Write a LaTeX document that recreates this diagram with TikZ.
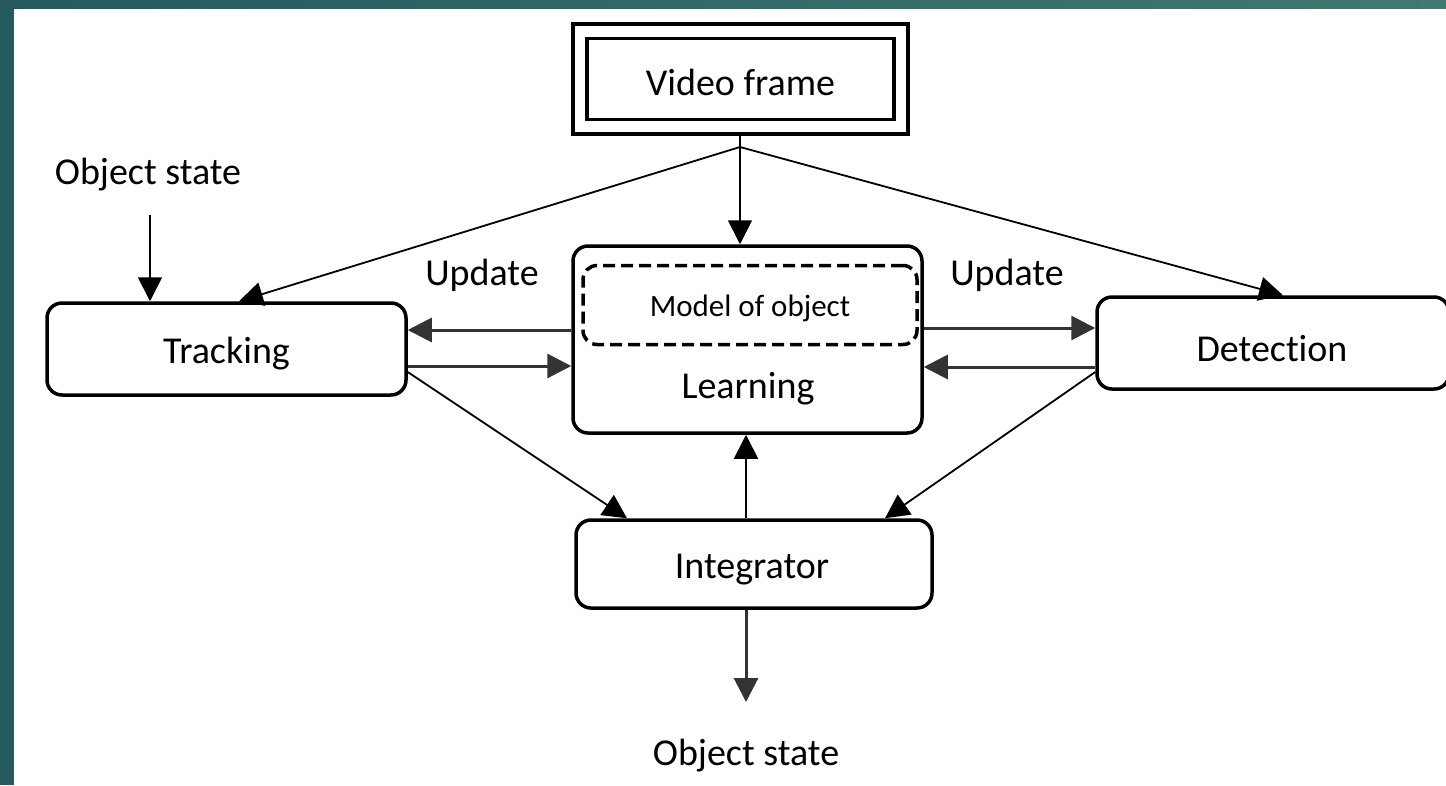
\documentclass[tikz,border=0pt]{standalone}
\usepackage{fontspec}
\setmainfont[Ligatures=NoCommon]{Carlito}
\usetikzlibrary{arrows.meta}
\definecolor{tealL}{RGB}{36,90,94}
\definecolor{tealR}{RGB}{62,122,114}
\begin{document}
\begin{tikzpicture}[x=1pt,y=-1pt,
  box/.style={draw=black,line width=3.5pt,rounded corners=15pt,fill=white,inner sep=0pt},
  lbl/.style={font=\fontsize{38}{44}\selectfont,inner sep=0pt},
  thin/.style={line width=1.8pt,-{Triangle[length=24pt,width=24pt]}},
  mid/.style={line width=3pt,draw=black!80,-{Triangle[length=24pt,width=24pt]}}]
\useasboundingbox (0,0) rectangle (1446,785);
\shade[left color=tealL,right color=tealR] (0,0) rectangle (1446,10);
\fill[tealL] (0,0) rectangle (14,785);
\fill[white] (14,9) rectangle (1446,785);
% nodes
\node[draw,line width=4pt,minimum width=335pt,minimum height=110pt,inner sep=0pt] (vfo) at (740.5,79) {};
\node[draw,line width=3.5pt,minimum width=307pt,minimum height=81pt,inner sep=0pt] (vf) at (740.5,79) {};
\node[lbl] (vft) at ([yshift=-3pt]vf.center) {Video frame};
\node[box,minimum width=359pt,minimum height=92pt] (tr) at (226.5,349) {};
\node[lbl] (trt) at ([yshift=-5pt]tr.center) {Tracking};
\node[box,minimum width=349pt,minimum height=187pt] (le) at (747.5,339.5) {};
\node[draw,dashed,dash pattern=on 12pt off 6pt,line width=3.5pt,rounded corners=14pt,minimum width=334pt,minimum height=79pt,inner sep=0pt] (mo) at (750,305) {};
\node[font=\fontsize{31}{36}\selectfont,inner sep=0pt] (mot) at ([yshift=-3pt]mo.center) {Model of object};
\node[lbl] (lt) at (748,389) {Learning};
\node[box,minimum width=352pt,minimum height=92pt] (de) at (1273,343) {};
\node[lbl] (det) at (1272,349) {Detection};
\node[box,minimum width=356pt,minimum height=88pt] (in) at (754,564) {};
\node[lbl] (int) at (752,570) {Integrator};
\node[lbl] (ost) at (148,175) {Object state};
\node[lbl] (osb) at (746,756) {Object state};
\node[lbl] (u1) at (482,275) {Update};
\node[lbl] (u2) at (1007,275) {Update};
\coordinate (br) at (740,147);
\coordinate (ostb) at (150,215);
\coordinate (outb) at (746,702);
% connectors
\draw[line width=1.8pt] (vfo.south -| br) -- (br);
\draw[thin] (br) -- (le.north -| br);
\draw[thin] (br) -- (tr.north -| 239,0);
\draw[thin] (br) -- (de.north -| 1283,0);
\draw[thin] (ostb) -- (tr.north -| ostb);
\draw[mid] (le.west |- 0,330) -- (tr.east |- 0,330);
\draw[mid] (tr.east |- 0,366) -- (le.west |- 0,366);
\draw[mid] (le.east |- 0,328) -- (de.west |- 0,328);
\draw[mid] (de.west |- 0,367) -- (le.east |- 0,367);
\draw[thin] (tr.east |- 0,372) -- (in.north -| 627,0);
\draw[thin] (de.west |- 0,372) -- (in.north -| 885,0);
\draw[thin] (in.north -| 746,0) -- (le.south -| 746,0);
\draw[mid] (in.south -| outb) -- (outb);
\end{tikzpicture}
\end{document}
